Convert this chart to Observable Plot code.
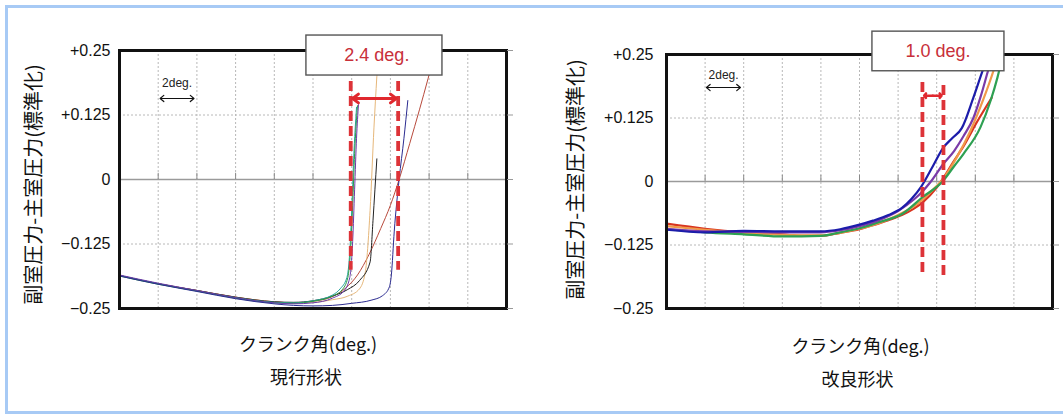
<!DOCTYPE html>
<html><head><meta charset="utf-8">
<script src="https://cdn.jsdelivr.net/npm/d3@7"></script>
<script src="https://cdn.jsdelivr.net/npm/@observablehq/plot@0.6"></script>
<style>
html,body{margin:0;padding:0;background:#fff;width:1063px;height:414px;overflow:hidden;}
#wrap{position:relative;width:1063px;height:414px;overflow:hidden;}
.panel{position:absolute;top:0;}
#border{position:absolute;left:5px;top:5px;width:1090px;height:409px;box-sizing:border-box;border:3px solid #a7caf5;border-right:none;pointer-events:none;}
</style></head>
<body><div id="wrap"><div id="left" class="panel" style="left:0"></div><div id="right" class="panel" style="left:530px"></div><div id="border"></div></div>
<script>
// ---- shared axes ----
const xGrid = [2, 4, 6, 8, 10, 12, 14, 16, 18];
const yTicks = [-0.25, -0.125, 0, 0.125, 0.25];
const yTickLabels = ["\u22120.25", "\u22120.125", "0", "+0.125", "+0.25"];
const yGrid = [-0.125, 0.125];
const yTitle = "副室圧力-主室圧力(標準化)";
const xTitle = "クランク角(deg.)";

// ---- 現行形状 (current shape) curves: [crank angle deg, normalized pressure diff] ----
const curBrown = [[0,-0.186],[2,-0.202],[4,-0.215],[6,-0.228],[8,-0.237],[9,-0.239],[10,-0.236],[11,-0.227],[11.7,-0.21],[12.3,-0.185],[12.9,-0.145],[13.5,-0.095],[14.0,-0.05],[14.45,0],[15.0,0.07],[15.5,0.135],[15.95,0.196],[16.4,0.26]];
const curTan = [[0,-0.186],[2,-0.202],[4,-0.215],[6,-0.228],[8,-0.237],[9,-0.239],[10,-0.238],[11,-0.233],[11.8,-0.226],[12.4,-0.212],[12.7,-0.18],[12.95,-0.06],[13.15,0.1],[13.3,0.2],[13.4,0.26]];
const curBlack = [[0,-0.186],[2,-0.202],[4,-0.215],[6,-0.228],[8,-0.237],[9,-0.238],[10,-0.235],[11,-0.226],[11.8,-0.213],[12.4,-0.196],[12.95,-0.16],[13.1,-0.08],[13.2,-0.02],[13.3,0.04]];
const curTeal = [[0,-0.186],[2,-0.202],[4,-0.216],[6,-0.229],[8,-0.238],[9,-0.239],[10,-0.235],[11,-0.224],[11.4,-0.212],[11.75,-0.19],[11.9,-0.14],[12.0,-0.06],[12.1,0.04],[12.25,0.14]];
const curGreen = [[0,-0.187],[2,-0.203],[4,-0.216],[6,-0.23],[8,-0.239],[9,-0.24],[10,-0.236],[11,-0.226],[11.5,-0.214],[11.8,-0.19],[11.95,-0.13],[12.05,-0.05],[12.15,0.05],[12.3,0.143]];
const curPurple = [[0,-0.185],[2,-0.201],[4,-0.215],[6,-0.229],[8,-0.239],[9,-0.241],[10,-0.239],[11,-0.23],[11.6,-0.216],[11.9,-0.19],[12.05,-0.12],[12.15,-0.02],[12.25,0.08],[12.35,0.145]];
const curNavy = [[0,-0.187],[2,-0.203],[4,-0.217],[6,-0.231],[8,-0.241],[9,-0.244],[10,-0.245],[11,-0.244],[12,-0.24],[13,-0.234],[13.6,-0.225],[13.95,-0.208],[14.05,-0.185],[14.2,-0.1],[14.45,0],[14.7,0.08],[14.9,0.153]];

// ---- 改良形状 (improved shape) curves ----
const impRed = [[0,-0.083],[2,-0.093],[4,-0.1],[6,-0.104],[7,-0.107],[8,-0.107],[9,-0.101],[10,-0.094],[10.7,-0.086],[11.5,-0.076],[12.2,-0.066],[12.8,-0.054],[13.3,-0.04],[14,-0.012],[14.4,0.01],[14.8,0.035],[15.4,0.07],[16.1,0.118],[16.85,0.165]];
const impOrange = [[0,-0.088],[2,-0.095],[4,-0.101],[6,-0.105],[8,-0.106],[9,-0.101],[10,-0.093],[11,-0.082],[12,-0.066],[13,-0.044],[13.7,-0.02],[14.35,0.006],[15,0.045],[15.75,0.1],[16.4,0.16],[16.95,0.219],[17.2,0.25]];
const impGreen = [[0,-0.094],[2,-0.1],[4,-0.104],[6,-0.108],[8,-0.107],[9,-0.1],[10,-0.092],[11,-0.08],[12.2,-0.064],[13.26,-0.031],[14.3,0],[14.9,0.03],[15.4,0.055],[16.27,0.107],[16.8,0.16],[17.15,0.205],[17.3,0.228],[17.45,0.25]];
const impPurple = [[0,-0.093],[2,-0.098],[4,-0.099],[6,-0.1],[8,-0.1],[9,-0.096],[10,-0.088],[11,-0.076],[12,-0.058],[12.8,-0.036],[13.3,-0.018],[13.7,0],[14.35,0.035],[14.9,0.06],[15.4,0.09],[15.9,0.125],[16.3,0.17],[16.6,0.21],[16.9,0.25]];
const impNavy = [[0,-0.095],[2,-0.1],[4,-0.097],[6,-0.098],[8,-0.098],[9,-0.094],[10,-0.085],[10.7,-0.077],[11.5,-0.066],[12.2,-0.052],[12.7,-0.034],[13.2,-0.01],[13.8,0.03],[14.35,0.067],[14.8,0.085],[15.3,0.105],[15.9,0.165],[16.4,0.22],[16.7,0.25]];

// ---- annotations (data units) ----
const curDashes = [{x: 11.95, y1: 0.19, y2: -0.176}, {x: 14.4, y1: 0.19, y2: -0.176}];
const curSpan = {x1: 12.05, x2: 14.3, y: 0.157};
const curBox = {x1: 9.66, x2: 16.69, y1: 0.279, y2: 0.2015, tx: 13.3, ty: 0.24, label: "2.4 deg."};
const curTwo = {x1: 2.1, x2: 3.85, y: 0.157, tx: 2.2, ty: 0.186, label: "2deg."};
const impDashes = [{x: 13.26, y1: 0.195, y2: -0.183}, {x: 14.35, y1: 0.189, y2: -0.189}];
const impSpan = {x1: 13.35, x2: 14.25, y: 0.169};
const impBox = {x1: 10.67, x2: 17.51, y1: 0.295, y2: 0.217, tx: 14.07, ty: 0.256, label: "1.0 deg."};
const impTwo = {x1: 2.07, x2: 3.83, y: 0.185, tx: 2.18, ty: 0.209, label: "2deg."};

const labelOf = new Map(yTicks.map((t, i) => [t, yTickLabels[i]]));
const SANS = "'Liberation Sans', Arial, sans-serif";
const CJK = "'Noto Sans CJK JP', 'Noto Sans', sans-serif";

function panel(o) {
  const mid = (s) => (s.x1 + s.x2) / 2;
  const marks = [
    Plot.ruleX(xGrid, {stroke: "#b8b8b8", strokeDasharray: "2,2"}),
    Plot.ruleY(yGrid, {stroke: "#b8b8b8", strokeDasharray: "2,2"}),
    Plot.ruleY([0], {stroke: "#9a9a9a", strokeWidth: 1.3}),
    Plot.ruleX(xGrid, {y1: 0, y2: 0.012, stroke: "#8a8a8a"}),
    ...o.series.map(s => Plot.line(s.data, {x: d => d[0], y: d => d[1], stroke: s.color, strokeWidth: o.lw, curve: "monotone-x", clip: true})),
    Plot.frame({stroke: "#111", strokeWidth: 3}),
    Plot.axisY({anchor: "left", ticks: yTicks, tickFormat: d => labelOf.get(d), tickSize: 0, tickPadding: o.tickPad, fontSize: 16, fontFamily: SANS, fill: "#111", label: null}),
    Plot.axisY({anchor: "right", ticks: yTicks, tickSize: 6, tickFormat: () => "", stroke: "#999", label: null}),
    Plot.ruleX(o.dashes, {x: "x", y1: "y1", y2: "y2", stroke: "#dd3338", strokeWidth: 3.8, strokeDasharray: "10,5"}),
    Plot.arrow([o.span], {x1: mid, x2: "x1", y1: "y", y2: "y", stroke: "#e0282e", strokeWidth: o.spanW, headLength: o.headL, headAngle: o.headA}),
    Plot.arrow([o.span], {x1: mid, x2: "x2", y1: "y", y2: "y", stroke: "#e0282e", strokeWidth: o.spanW, headLength: o.headL, headAngle: o.headA}),
    Plot.arrow([o.two], {x1: mid, x2: "x1", y1: "y", y2: "y", stroke: "#111", strokeWidth: 1.2, headLength: 6, headAngle: 80}),
    Plot.arrow([o.two], {x1: mid, x2: "x2", y1: "y", y2: "y", stroke: "#111", strokeWidth: 1.2, headLength: 6, headAngle: 80}),
    Plot.text([o.two], {x: "tx", y: "ty", text: "label", textAnchor: "start", fontSize: 12, fontFamily: SANS, fill: "#222"}),
    Plot.rect([o.box], {x1: "x1", x2: "x2", y1: "y1", y2: "y2", fill: "white", stroke: "#555", strokeWidth: 1.4}),
    Plot.text([o.box], {x: "tx", y: "ty", text: "label", fontSize: 18, fontFamily: SANS, fill: "#c8303a"}),
    Plot.text([yTitle], {text: d => d, frameAnchor: "left", textAnchor: "middle", lineAnchor: "middle", rotate: -90, dx: o.yTdx, dy: o.yTdy, fontSize: 20, fontFamily: CJK, fill: "#111"}),
    Plot.text([xTitle], {text: d => d, frameAnchor: "bottom", textAnchor: "middle", lineAnchor: "middle", dx: o.xTdx, dy: o.xTdy, fontSize: 18, fontFamily: CJK, fill: "#111"}),
    Plot.text([o.sub], {text: d => d, frameAnchor: "bottom", textAnchor: "middle", lineAnchor: "middle", dx: o.sTdx, dy: o.sTdy, fontSize: 18, fontFamily: CJK, fill: "#111"})
  ];
  return Plot.plot({
    width: o.width, height: 414,
    marginLeft: o.ml, marginRight: o.mr, marginTop: o.mt, marginBottom: 414 - o.bottom,
    x: {domain: [0, 20], axis: null},
    y: {domain: [-0.25, 0.25], axis: null},
    style: {background: "transparent", overflow: "visible", fontFamily: SANS},
    marks
  });
}

document.getElementById("left").append(panel({
  width: 530, ml: 119, mr: 24, mt: 50, bottom: 308, tickPad: 9, lw: 1,
  series: [
    {data: curBrown, color: "#b84a3c"}, {data: curTan, color: "#e6b77a"}, {data: curBlack, color: "#222"},
    {data: curTeal, color: "#2aa6a0"}, {data: curGreen, color: "#2e9b48"}, {data: curPurple, color: "#6a3aa8"},
    {data: curNavy, color: "#2b2b90"}
  ],
  dashes: curDashes, span: curSpan, box: curBox, two: curTwo, spanW: 3, headL: 13, headA: 75,
  sub: "現行形状", yTdx: -85, yTdy: 5, xTdx: -5, xTdy: 37, sTdx: -7, sTdy: 70
}));

document.getElementById("right").append(panel({
  width: 533, ml: 136, mr: 11, mt: 54, bottom: 308, tickPad: 13, lw: 2.2,
  series: [
    {data: impRed, color: "#d8341f"}, {data: impOrange, color: "#f0994a"}, {data: impGreen, color: "#2ea052"},
    {data: impPurple, color: "#7a3aa8"}, {data: impNavy, color: "#1c1caa"}
  ],
  dashes: impDashes, span: impSpan, box: impBox, two: impTwo, spanW: 2.5, headL: 7, headA: 100,
  sub: "改良形状", yTdx: -90, yTdy: -2, xTdx: 1, xTdy: 39, sTdx: -2, sTdy: 72
}));
</script></body></html>
